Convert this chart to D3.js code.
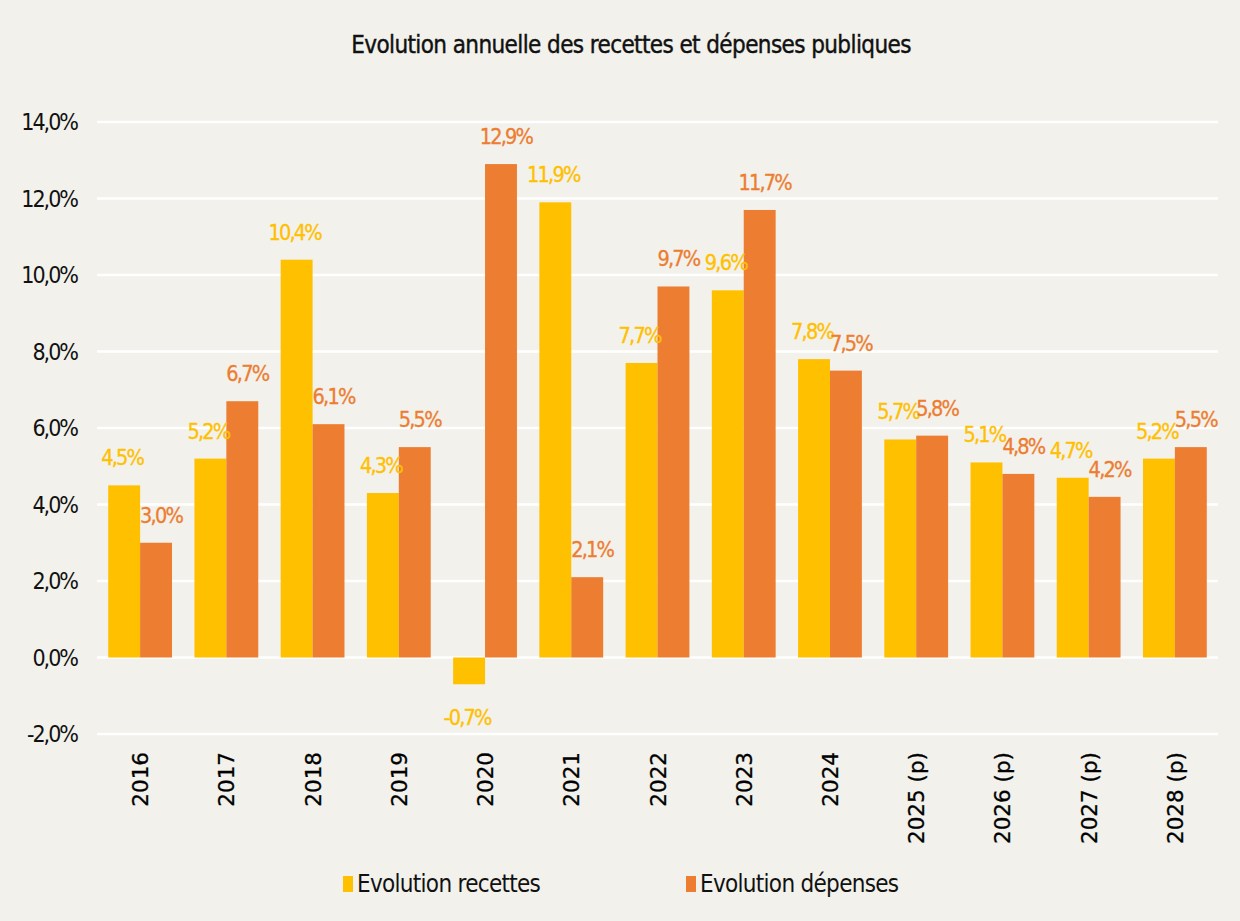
<!DOCTYPE html>
<html>
<head>
<meta charset="utf-8">
<script src="https://cdn.jsdelivr.net/npm/d3@7"></script>
<style>
  body { margin: 0; background: #f2f1ec; }
  svg { display: block; }
  .lbl { font-family: "DejaVu Sans Condensed", "DejaVu Sans", sans-serif; }
</style>
</head>
<body>
<div id="chart"></div>
<script>
	'use strict';

	// data
	var categories = ["2016", "2017", "2018", "2019", "2020", "2021", "2022", "2023", "2024",
		"2025 (p)", "2026 (p)", "2027 (p)", "2028 (p)"];
	var recettes = [4.5, 5.2, 10.4, 4.3, -0.7, 11.9, 7.7, 9.6, 7.8, 5.7, 5.1, 4.7, 5.2];
	var depenses = [3.0, 6.7, 6.1, 5.5, 12.9, 2.1, 9.7, 11.7, 7.5, 5.8, 4.8, 4.2, 5.5];
	var yTicks = [-2, 0, 2, 4, 6, 8, 10, 12, 14];
	var seriesNames = ["Evolution recettes", "Evolution dépenses"];
	var colors = ["#ffc000", "#ed7d31"];

	var width = 1240, height = 921;
	var margin = {left: 97, right: 22, top: 122, bottom: 187};

	var svg = d3.select("#chart").append("svg")
		.attr("width", width)
		.attr("height", height);

	svg.append("rect").attr("width", width).attr("height", height).attr("fill", "#f2f1ec");

	var x = d3.scaleBand()
		.domain(categories)
		.range([margin.left, width - margin.right])
		.paddingInner(0.26)
		.paddingOuter(0.13);

	var xs = d3.scaleBand()
		.domain([0, 1])
		.range([0, x.bandwidth()]);

	var y = d3.scaleLinear()
		.domain([-2, 14])
		.range([height - margin.bottom, margin.top]);

	// gridlines
	svg.append("g").selectAll("line").data(yTicks).enter()
		.append("line")
		.attr("x1", margin.left)
		.attr("x2", width - margin.right)
		.attr("y1", function(d) { return y(d); })
		.attr("y2", function(d) { return y(d); })
		.attr("stroke", "#ffffff")
		.attr("stroke-width", 2.5);

	// y axis labels
	var fmt = function(v) { return v.toFixed(1).replace(".", ",") + "%"; };
	svg.append("g").selectAll("text").data(yTicks).enter()
		.append("text")
		.attr("class", "lbl")
		.attr("x", 77)
		.attr("y", function(d) { return y(d); })
		.attr("dy", "0.35em")
		.attr("text-anchor", "end")
		.attr("font-size", 23)
		.attr("letter-spacing", -2)
		.attr("fill", "#111")
		.text(fmt);

	// bars
	var rows = categories.map(function(c, i) { return {cat: c, vals: [recettes[i], depenses[i]]}; });

	var groups = svg.append("g").selectAll("g").data(rows).enter()
		.append("g")
		.attr("transform", function(d) { return "translate(" + x(d.cat) + ",0)"; });

	groups.selectAll("rect")
		.data(function(d) { return d.vals.map(function(v, k) { return {v: v, k: k}; }); })
		.enter()
		.append("rect")
		.attr("x", function(d) { return xs(d.k); })
		.attr("width", xs.bandwidth())
		.attr("y", function(d) { return y(Math.max(0, d.v)); })
		.attr("height", function(d) { return Math.abs(y(d.v) - y(0)); })
		.attr("fill", function(d) { return colors[d.k]; });

	// data labels
	groups.selectAll("text")
		.data(function(d) { return d.vals.map(function(v, k) { return {v: v, k: k}; }); })
		.enter()
		.append("text")
		.attr("class", "lbl")
		.attr("x", function(d) { return xs(d.k) + xs.bandwidth() / 2 + (d.k === 1 ? 5 : -2); })
		.attr("y", function(d) { return d.v >= 0 ? y(d.v) - 20 : y(d.v) + 41; })
		.attr("text-anchor", "middle")
		.attr("font-size", 21.5)
		.attr("letter-spacing", -1.8)
		.attr("fill", function(d) { return colors[d.k]; })
		.attr("stroke", function(d) { return colors[d.k]; })
		.attr("stroke-width", 0.3)
		.text(function(d) { return fmt(d.v); });

	// x axis labels (rotated)
	svg.append("g").selectAll("text").data(categories).enter()
		.append("text")
		.attr("transform", function(d) {
			return "translate(" + (x(d) + x.bandwidth() / 2 + 8) + "," + 752 + ") rotate(-90)";
		})
		.attr("text-anchor", "end")
		.attr("font-family", "DejaVu Sans, sans-serif")
		.attr("font-size", 21.5)
		.attr("fill", "#000")
		.attr("stroke", "#000")
		.attr("stroke-width", 0.3)
		.text(function(d) { return d; });

	// title
	svg.append("text")
		.attr("class", "lbl")
		.attr("x", 631)
		.attr("y", 53)
		.attr("text-anchor", "middle")
		.attr("font-size", 24)
		.attr("letter-spacing", -0.6)
		.attr("fill", "#111")
		.attr("stroke", "#111")
		.attr("stroke-width", 0.4)
		.text("Evolution annuelle des recettes et dépenses publiques");

	// legend
	var legendX = [343, 686];
	var legend = svg.append("g").selectAll("g").data(seriesNames).enter()
		.append("g")
		.attr("transform", function(d, i) { return "translate(" + legendX[i] + ",876)"; });
	legend.append("rect")
		.attr("width", 10).attr("height", 16)
		.attr("fill", function(d, i) { return colors[i]; });
	legend.append("text")
		.attr("class", "lbl")
		.attr("x", 14)
		.attr("y", 16)
		.attr("font-size", 24)
		.attr("letter-spacing", -0.7)
		.attr("fill", "#111")
		.text(function(d) { return d; });
</script>
</body>
</html>
